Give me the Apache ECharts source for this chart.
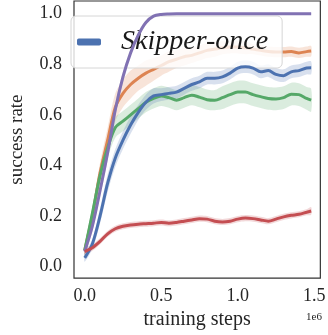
<!DOCTYPE html>
<html>
<head>
<meta charset="utf-8">
<script src="https://cdn.jsdelivr.net/npm/echarts@6/dist/echarts.min.js"></script>
<style>html,body{margin:0;padding:0;background:#fff}#c{width:328px;height:335px}</style>
</head>
<body>
<div id="c"></div>
<script>
// training steps (x 1e6)
var steps = [0,0.05,0.1,0.15,0.2,0.25,0.3,0.35,0.4,0.45,0.5,0.55,0.6,0.65,0.7,0.75,0.8,0.85,0.9,0.95,1.0,1.05,1.1,1.15,1.2,1.25,1.3,1.35,1.4,1.45,1.48];
var xTicks = [0, 0.5, 1.0, 1.5];
var yTicks = [0, 0.2, 0.4, 0.6, 0.8, 1.0];

var orangeMean = [0.065,0.2,0.37,0.5,0.63,0.685,0.72,0.745,0.765,0.78,0.795,0.81,0.82,0.83,0.835,0.845,0.855,0.86,0.865,0.868,0.868,0.865,0.86,0.855,0.85,0.848,0.848,0.85,0.845,0.85,0.852];
var orangeSpread = [0.02,0.03,0.04,0.05,0.055,0.055,0.055,0.05,0.05,0.045,0.04,0.04,0.035,0.035,0.03,0.03,0.03,0.03,0.025,0.025,0.025,0.025,0.02,0.02,0.02,0.02,0.02,0.02,0.02,0.02,0.02];

var greenMean = [0.065,0.21,0.36,0.47,0.55,0.575,0.6,0.625,0.65,0.665,0.675,0.668,0.658,0.668,0.678,0.67,0.66,0.658,0.668,0.68,0.69,0.69,0.68,0.672,0.665,0.663,0.668,0.682,0.68,0.665,0.658];
var greenSpread = [0.02,0.03,0.035,0.04,0.04,0.04,0.04,0.04,0.04,0.04,0.04,0.04,0.04,0.04,0.04,0.04,0.04,0.04,0.045,0.045,0.045,0.045,0.045,0.045,0.045,0.045,0.045,0.045,0.045,0.045,0.045];

var purpleMean = [0.06,0.16,0.3,0.45,0.62,0.75,0.845,0.915,0.965,0.99,0.997,0.999,1.0,1.0,1.0,1.0,1.0,1.0,1.0,1.0,1.0,1.0,1.0,1.0,1.0,1.0,1.0,1.0,1.0,1.0,1.0];
var purpleSpread = [0.015,0.02,0.025,0.025,0.025,0.02,0.015,0.01,0.008,0.005,0.003,0.002,0.002,0.002,0.002,0.002,0.002,0.002,0.002,0.002,0.002,0.002,0.002,0.002,0.002,0.002,0.002,0.002,0.002,0.002,0.002];

var blueMean = [0.035,0.09,0.2,0.33,0.43,0.5,0.56,0.61,0.65,0.675,0.68,0.685,0.69,0.705,0.72,0.73,0.745,0.745,0.75,0.765,0.785,0.79,0.785,0.77,0.775,0.76,0.755,0.77,0.775,0.785,0.786];
var blueSpread = [0.015,0.02,0.03,0.035,0.035,0.035,0.035,0.03,0.03,0.03,0.025,0.025,0.025,0.025,0.025,0.025,0.025,0.025,0.025,0.025,0.025,0.025,0.025,0.025,0.025,0.025,0.025,0.025,0.025,0.025,0.025];

var redMean = [0.06,0.075,0.1,0.13,0.15,0.16,0.165,0.168,0.17,0.172,0.175,0.172,0.175,0.18,0.185,0.19,0.188,0.18,0.177,0.18,0.188,0.192,0.19,0.185,0.18,0.188,0.197,0.203,0.207,0.215,0.22];
var redSpread = [0.012,0.012,0.012,0.012,0.012,0.012,0.012,0.012,0.012,0.012,0.012,0.012,0.012,0.012,0.012,0.012,0.012,0.012,0.012,0.012,0.012,0.012,0.012,0.012,0.012,0.012,0.012,0.012,0.012,0.012,0.015];

var groups = [
  {name: 'orange', mean: orangeMean, spread: orangeSpread, color: '#DD8452'},
  {name: 'green', mean: greenMean, spread: greenSpread, color: '#55A868'},
  {name: 'purple', mean: purpleMean, spread: purpleSpread, color: '#8172B3'},
  {name: 'Skipper-once', mean: blueMean, spread: blueSpread, color: '#4C72B0'},
  {name: 'red', mean: redMean, spread: redSpread, color: '#C44E52'}
];

var series = [];
groups.forEach(function (g, gi) {
  series.push({
    type: 'custom', name: g.name + '_band', silent: true, z: 1,
    data: [[steps[0], g.mean[0]]],
    encode: {x: 0, y: 1},
    renderItem: function (params, api) {
      var upper = [], lower = [];
      for (var i = 0; i < steps.length; i++) {
        upper.push(api.coord([steps[i], g.mean[i] + g.spread[i]]));
        lower.push(api.coord([steps[i], g.mean[i] - g.spread[i]]));
      }
      return {
        type: 'polygon',
        shape: {points: upper.concat(lower.reverse()), smooth: 0.3},
        style: {fill: g.color, opacity: 0.22}
      };
    }
  });
});
groups.forEach(function (g, gi) {
  series.push({
    type: 'line', name: g.name, symbol: 'none', smooth: 0.3, z: 3 + gi,
    color: g.color,
    lineStyle: {color: g.color, width: 3},
    data: steps.map(function (x, i) { return [x, g.mean[i]]; })
  });
});

var font = 'Liberation Serif';
var chart = echarts.init(document.getElementById('c'), null, {renderer: 'canvas'});
chart.setOption({
  backgroundColor: '#fff',
  animation: false,
  grid: {left: 55, right: 2, top: 1, bottom: 52, show: true, borderColor: '#333', borderWidth: 1.2, backgroundColor: 'transparent'},
  xAxis: {
    type: 'value', min: -0.07, max: 1.54,
    axisLine: {show: false}, splitLine: {show: false},
    axisTick: {show: false, customValues: xTicks},
    axisLabel: {customValues: xTicks, formatter: function (v) { return v.toFixed(1); }, fontFamily: font, fontSize: 18, color: '#262626', margin: 9},
    name: 'training steps', nameLocation: 'middle', nameGap: 25,
    nameTextStyle: {fontFamily: font, fontSize: 20, color: '#262626'}
  },
  yAxis: {
    type: 'value', min: -0.045, max: 1.05,
    axisLine: {show: false}, splitLine: {show: false},
    axisTick: {show: false, customValues: yTicks},
    axisLabel: {customValues: yTicks, formatter: function (v) { return v.toFixed(1); }, fontFamily: font, fontSize: 18, color: '#262626', margin: 12},
    name: 'success rate', nameLocation: 'middle', nameGap: 47,
    nameTextStyle: {fontFamily: font, fontSize: 19, color: '#262626'}
  },
  legend: {
    data: ['Skipper-once'],
    left: 71, top: 16,
    padding: [12, 14, 12, 6],
    itemWidth: 24, itemHeight: 7,
    icon: 'roundRect',
    backgroundColor: 'rgba(255,255,255,0.8)',
    borderColor: '#d6d6d6', borderWidth: 1, borderRadius: 5,
    textStyle: {fontFamily: font, fontStyle: 'italic', fontSize: 28, color: '#1a1a1a', padding: [0, 0, 0, 15]}
  },
  graphic: [{
    type: 'text', right: 6, top: 312,
    style: {text: '1e6', fontFamily: font, fontSize: 11, fill: '#262626'}
  }],
  series: series
});
</script>
</body>
</html>
